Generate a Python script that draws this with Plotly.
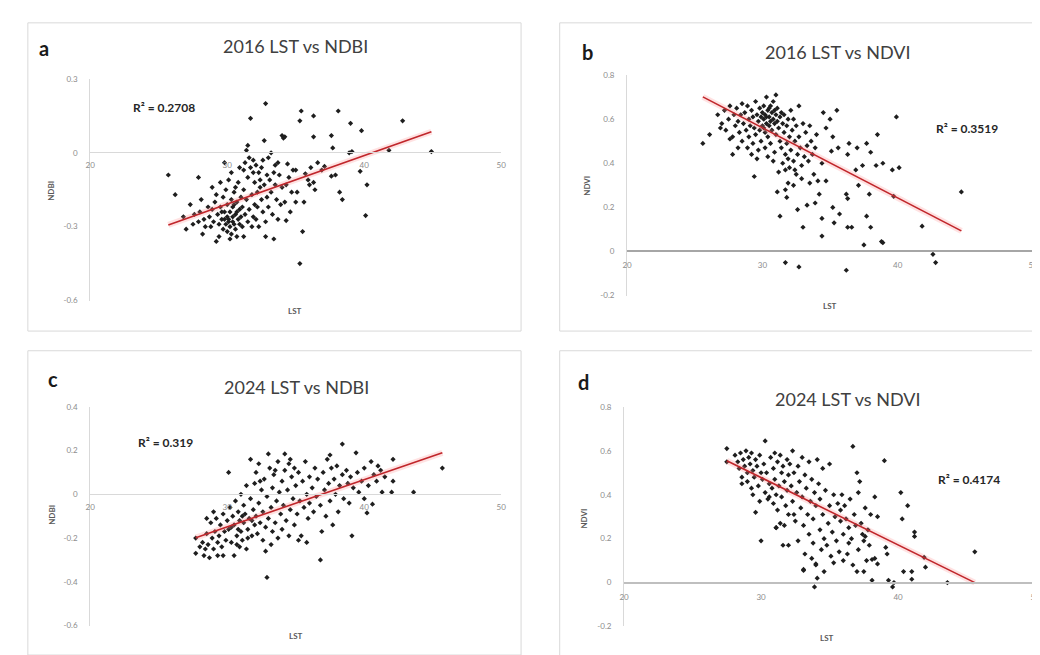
import plotly.graph_objects as go

# ---------------- data ----------------
pts_2016_ndbi = [
    (25.7,-0.09),(26.2,-0.17),(27.0,-0.31),(27.9,-0.10),(26.8,-0.26),(27.3,-0.21),(27.6,-0.25),(27.9,-0.28),
    (28.1,-0.19),(28.3,-0.27),(28.4,-0.30),(27.5,-0.29),(28.0,-0.24),(28.6,-0.22),(28.2,-0.33),
    (28.7,-0.26),(28.8,-0.30),(28.9,-0.23),(29.0,-0.28),(29.1,-0.20),(29.2,-0.36),(29.3,-0.25),(29.4,-0.34),
    (29.4,-0.29),(29.5,-0.22),(29.6,-0.27),(29.7,-0.31),(29.7,-0.18),(29.8,-0.24),(29.9,-0.29),(29.9,-0.15),
    (30.0,-0.26),(30.0,-0.32),(30.0,-0.21),(29.5,-0.12),(29.8,-0.04),(29.2,-0.17),(28.9,-0.14),
    (30.1,-0.28),(30.2,-0.24),(30.2,-0.30),(30.3,-0.19),(30.3,-0.33),(30.4,-0.26),(30.4,-0.22),(30.5,-0.29),
    (30.5,-0.16),(30.6,-0.25),(30.6,-0.31),(30.7,-0.34),(30.7,-0.20),(30.8,-0.27),(30.8,-0.12),(30.9,-0.23),
    (30.9,-0.29),(31.0,-0.18),(31.0,-0.26),(30.1,-0.11),(30.3,-0.08),(30.6,-0.14),(30.9,-0.06),(30.2,-0.35),
    (30.5,-0.21),(29.6,-0.24),(30.1,-0.27),(30.4,-0.28),(29.8,-0.27),(30.7,-0.24),
    (31.1,-0.22),(31.1,-0.30),(31.2,-0.34),(31.2,-0.15),(31.3,-0.25),(31.3,-0.04),(31.4,0.01),(31.4,-0.19),
    (31.5,-0.28),(31.5,-0.10),(31.6,-0.02),(31.6,-0.23),(31.7,0.14),(31.7,-0.06),(31.8,-0.30),(31.8,-0.17),
    (31.9,-0.08),(31.9,-0.26),(32.0,-0.12),(32.0,-0.21),(31.2,-0.07),(31.5,0.03),(31.9,-0.03),
    (32.1,-0.05),(32.1,-0.27),(32.2,-0.16),(32.3,-0.08),(32.3,-0.30),(32.4,-0.11),(32.5,-0.19),(32.5,-0.06),
    (32.6,-0.24),(32.7,0.05),(32.7,-0.13),(32.8,0.20),(32.8,-0.34),(32.9,-0.09),(32.9,-0.18),(33.0,-0.02),
    (33.0,-0.22),(32.4,-0.14),(32.6,-0.03),(32.2,-0.22),(32.8,-0.28),
    (33.1,-0.11),(33.2,0.00),(33.2,-0.16),(33.3,-0.25),(33.4,-0.35),(33.4,-0.08),(33.5,-0.13),(33.6,-0.19),
    (33.7,-0.27),(33.7,-0.04),(33.8,-0.09),(34.0,0.07),(34.1,0.06),(34.2,0.065),(34.0,-0.14),(34.2,-0.20),
    (34.3,-0.275),(34.4,-0.045),(34.5,-0.10),(34.6,-0.24),(34.7,-0.16),(34.8,-0.07),(35.0,-0.07),(35.0,-0.20),
    (33.5,-0.05),(34.3,-0.13),(33.9,-0.21),
    (35.1,-0.16),(35.3,0.13),(35.3,-0.45),(35.4,0.17),(35.5,-0.32),(35.6,-0.20),(35.7,-0.085),(35.9,-0.11),
    (36.1,-0.06),(36.3,0.15),(36.3,0.065),(36.3,-0.12),(36.4,-0.15),(36.6,-0.04),(36.9,-0.07),(37.1,-0.055),
    (37.6,0.07),(37.6,-0.095),(37.7,0.02),(37.9,-0.09),(38.1,0.17),(38.2,-0.16),(38.4,-0.19),(36.0,-0.13),
    (38.9,0.0),(39.0,0.12),(39.1,0.005),(39.7,-0.075),(39.8,0.09),(40.1,-0.255),(40.2,-0.13),(41.8,0.01),
    (42.8,0.13),(44.9,0.005),
]

pts_2016_ndvi = [
    (25.6,0.49),(26.1,0.53),(27.8,0.44),(29.4,0.34),(31.3,0.16),(31.1,0.27),(31.7,0.28),(31.8,0.245),
    (31.9,0.31),(32.3,0.30),(32.6,0.19),(33.0,0.11),(33.3,0.21),(33.9,0.22),(34.2,0.26),(34.4,0.15),
    (34.4,0.07),(34.1,0.32),(34.7,0.32),(35.2,0.20),(35.3,0.13),(35.7,0.17),(36.2,0.26),(36.3,0.24),
    (36.3,0.11),(36.6,0.11),(37.1,0.30),(37.7,0.16),(38.0,0.11),(37.5,0.03),(37.9,0.26),(38.8,0.045),
    (38.9,0.04),(39.7,0.25),(39.9,0.61),(40.1,0.38),(39.6,0.37),(38.9,0.40),(38.4,0.39),(38.5,0.53),
    (38.0,0.45),(37.7,0.49),(37.4,0.39),(36.9,0.37),(37.0,0.47),(36.4,0.49),(36.3,0.44),(35.6,0.47),
    (35.1,0.455),(35.2,0.52),(35.5,0.64),(35.0,0.60),(34.5,0.63),(34.4,0.40),(34.7,0.56),(41.8,0.115),
    (44.7,0.27),(42.6,-0.013),(42.8,-0.05),(31.7,-0.05),(32.7,-0.07),(36.2,-0.085),
    (26.7,0.62),(27.0,0.58),(27.2,0.64),(27.3,0.55),(27.5,0.60),(27.6,0.66),(27.8,0.52),(27.9,0.62),
    (28.0,0.57),(28.1,0.65),(28.2,0.59),(28.3,0.54),(28.4,0.62),(28.5,0.50),(28.5,0.67),(26.9,0.56),
    (27.6,0.51),(28.2,0.47),
    (28.6,0.58),(28.7,0.63),(28.8,0.55),(28.9,0.66),(29.0,0.60),(29.0,0.52),(29.1,0.57),(29.2,0.64),
    (29.3,0.49),(29.3,0.61),(29.4,0.56),(29.5,0.68),(29.5,0.53),(29.6,0.62),(29.7,0.59),(29.7,0.46),
    (29.8,0.65),(29.8,0.55),(29.9,0.61),(29.9,0.50),(30.0,0.63),(30.0,0.57),(29.2,0.44),(29.6,0.42),
    (28.9,0.47),
    (30.1,0.60),(30.1,0.66),(30.2,0.54),(30.2,0.62),(30.3,0.58),(30.3,0.70),(30.4,0.64),(30.4,0.52),
    (30.5,0.61),(30.5,0.57),(30.6,0.66),(30.6,0.49),(30.7,0.63),(30.7,0.55),(30.8,0.60),(30.8,0.68),
    (30.9,0.58),(30.9,0.45),(31.0,0.62),(31.0,0.53),(30.4,0.43),(30.8,0.41),(30.2,0.47),(31.0,0.71),
    (30.3,0.61),(30.6,0.59),(30.9,0.64),(30.1,0.56),(30.5,0.65),
    (31.1,0.59),(31.1,0.65),(31.2,0.56),(31.3,0.61),(31.3,0.50),(31.4,0.63),(31.4,0.47),(31.5,0.58),
    (31.5,0.40),(31.6,0.54),(31.6,0.62),(31.7,0.44),(31.7,0.37),(31.8,0.57),(31.8,0.49),(31.9,0.60),
    (31.9,0.42),(32.0,0.52),(32.0,0.38),(31.2,0.36),
    (32.1,0.46),(32.1,0.64),(32.2,0.55),(32.3,0.41),(32.3,0.60),(32.4,0.50),(32.5,0.35),(32.5,0.57),
    (32.6,0.44),(32.7,0.66),(32.7,0.52),(32.8,0.47),(32.9,0.39),(33.0,0.58),(33.1,0.43),(33.2,0.54),
    (33.3,0.48),(33.4,0.41),(33.5,0.57),(33.6,0.50),(33.7,0.44),(33.8,0.35),(33.9,0.47),(34.0,0.53),
    (32.4,0.37),(32.9,0.33),(33.5,0.31),
]

pts_2024_ndbi = [
    (27.7,-0.20),(27.7,-0.27),(28.3,-0.28),(28.7,-0.29),(29.3,-0.28),(29.7,-0.28),(28.0,-0.24),(28.2,-0.22),
    (28.4,-0.25),(28.5,-0.18),(28.6,-0.23),(28.8,-0.13),(28.9,-0.20),(29.0,-0.25),(29.1,-0.17),(29.2,-0.11),
    (29.3,-0.22),(29.4,-0.19),(29.5,-0.14),(29.6,-0.24),(29.7,-0.09),(29.8,-0.17),(29.9,-0.21),(30.0,-0.12),
    (28.5,-0.11),(29.0,-0.08),(30.5,-0.28),
    (30.1,0.10),(30.1,-0.16),(30.2,-0.06),(30.3,-0.22),(30.4,-0.10),(30.5,-0.14),(30.6,-0.03),(30.7,-0.19),
    (30.8,-0.08),(30.9,-0.24),(30.9,-0.12),(31.0,0.00),(31.0,-0.17),(31.1,-0.21),(31.2,-0.05),(31.2,-0.13),
    (31.3,-0.09),(31.4,0.04),(31.4,-0.25),(31.5,-0.16),(31.6,-0.11),(31.7,0.16),(31.7,-0.02),(31.8,-0.19),
    (31.9,-0.07),(32.0,-0.14),(32.0,0.05),(30.7,-0.23),(31.5,-0.20),(30.3,-0.15),(31.1,-0.10),(31.8,-0.12),
    (30.8,-0.16),
    (32.1,-0.10),(32.1,0.10),(32.2,-0.18),(32.3,-0.04),(32.3,0.14),(32.4,-0.13),(32.5,0.02),(32.6,-0.21),
    (32.6,-0.08),(32.7,0.07),(32.8,-0.15),(32.8,-0.26),(32.9,-0.38),(32.9,-0.01),(33.0,0.185),(33.0,-0.11),
    (33.1,0.12),(33.2,-0.06),(33.3,-0.17),(33.3,0.03),(33.4,0.09),(33.5,-0.13),(33.6,-0.03),(33.7,0.15),
    (33.7,-0.20),(33.8,0.01),(33.9,-0.09),(34.0,0.06),(34.0,-0.16),(32.4,0.06),(33.2,-0.23),(33.5,0.11),
    (34.1,-0.05),(34.2,0.185),(34.2,0.11),(34.3,-0.12),(34.4,0.02),(34.5,0.14),(34.5,-0.19),(34.6,-0.07),
    (34.7,0.08),(34.8,-0.02),(34.9,0.12),(34.9,-0.14),(35.0,0.04),(35.1,-0.09),(35.2,0.10),(35.3,-0.03),
    (35.4,-0.19),(35.5,0.06),(35.6,-0.06),(35.7,0.15),(35.8,0.00),(35.9,-0.11),(36.0,0.08),(36.0,-0.04),
    (34.6,0.16),(35.2,-0.21),(35.8,-0.22),
    (36.2,0.03),(36.3,-0.08),(36.4,0.12),(36.5,-0.01),(36.6,0.07),(36.8,-0.30),(36.8,-0.05),(37.0,0.10),
    (37.1,0.02),(37.2,-0.10),(37.3,0.16),(37.4,0.05),(37.5,-0.03),(37.6,0.12),(37.7,-0.14),(37.8,0.07),
    (37.9,0.00),(38.0,0.13),(38.1,-0.08),(38.2,0.04),(38.4,0.23),(38.4,0.09),(38.5,-0.02),(38.7,0.11),
    (38.8,0.05),(38.9,-0.04),(39.0,0.08),(39.1,-0.19),(37.5,0.18),(36.9,-0.17),
    (39.2,0.03),(39.4,0.19),(39.5,0.10),(39.6,0.01),(39.8,0.06),(40.0,0.12),(40.0,-0.02),(40.2,-0.085),
    (40.3,0.04),(40.5,0.15),(40.6,-0.045),(40.7,0.09),(40.9,0.06),(41.0,0.13),(41.3,0.01),(41.5,0.08),
    (42.0,0.01),(42.1,0.06),(42.1,0.16),(43.6,0.01),(45.7,0.12),(41.2,0.11),
]

pts_2024_ndvi = [
    (27.5,0.61),(27.5,0.55),(30.3,0.645),(36.7,0.62),(39.0,0.555),(30.0,0.19),(29.6,0.32),(29.4,0.40),
    (31.1,0.25),(45.6,0.14),(43.6,0.0),(42.0,0.07),(41.9,0.115),(41.2,0.21),(41.2,0.23),(40.7,0.35),
    (40.2,0.41),(40.3,0.29),(39.7,0.0),(39.6,-0.02),(39.3,0.01),(41.0,0.015),(41.0,0.05),(40.4,0.05),
    (38.1,0.01),(37.0,0.05),(33.9,-0.02),(34.1,0.02),(33.1,0.055),(34.0,0.085),(36.0,0.10),(36.4,0.18),
    (38.1,0.105),(38.3,0.11),(38.5,0.085),(39.2,0.13),(37.5,0.19),(37.6,0.21),(39.1,0.16),(38.5,0.30),
    (38.0,0.31),(37.6,0.34),(37.1,0.41),(37.2,0.46),(37.0,0.50),(38.3,0.39),
    (28.1,0.58),(28.3,0.55),(28.4,0.52),(28.5,0.59),(28.6,0.48),(28.7,0.56),(28.8,0.53),(28.9,0.60),
    (29.0,0.50),(29.0,0.46),(29.1,0.57),(29.2,0.54),(29.3,0.59),(29.4,0.51),(29.5,0.48),(29.6,0.56),
    (29.7,0.53),(29.8,0.44),(29.9,0.58),(30.0,0.50),(28.6,0.45),(29.3,0.43),(29.9,0.37),
    (30.1,0.47),(30.2,0.54),(30.3,0.41),(30.4,0.50),(30.5,0.38),(30.6,0.45),(30.7,0.57),(30.8,0.43),
    (30.9,0.52),(30.9,0.36),(31.0,0.59),(31.0,0.47),(31.1,0.40),(31.2,0.55),(31.2,0.33),(31.3,0.44),
    (31.4,0.58),(31.4,0.27),(31.5,0.50),(31.5,0.39),(31.6,0.53),(31.7,0.46),(31.7,0.26),(31.8,0.35),
    (31.9,0.56),(31.9,0.42),(32.0,0.49),(32.0,0.31),(31.1,0.25),(30.6,0.39),(31.6,0.17),(32.0,0.17),
    (32.1,0.54),(32.2,0.44),(32.3,0.37),(32.3,0.60),(32.4,0.50),(32.5,0.28),(32.6,0.41),(32.7,0.53),
    (32.7,0.19),(32.8,0.46),(32.9,0.34),(33.0,0.57),(33.0,0.39),(33.1,0.26),(33.2,0.49),(33.2,0.13),
    (33.3,0.43),(33.4,0.31),(33.5,0.55),(33.5,0.22),(33.6,0.37),(33.7,0.47),(33.8,0.18),(33.8,0.29),
    (33.9,0.41),(34.0,0.35),(34.0,0.08),(32.4,0.31),(33.1,0.06),(33.7,0.11),
    (34.1,0.56),(34.2,0.45),(34.3,0.24),(34.3,0.38),(34.4,0.15),(34.5,0.52),(34.5,0.31),(34.6,0.20),
    (34.7,0.42),(34.8,0.17),(34.9,0.27),(35.0,0.54),(35.0,0.35),(35.1,0.12),(35.2,0.23),(35.3,0.40),
    (35.4,0.30),(35.5,0.19),(35.6,0.36),(35.7,0.14),(35.8,0.28),(35.9,0.40),(36.0,0.22),(34.6,0.05),
    (35.3,0.09),(35.8,0.33),
    (36.1,0.35),(36.2,0.29),(36.3,0.13),(36.4,0.25),(36.5,0.38),(36.6,0.20),(36.8,0.31),(36.9,0.26),
    (37.1,0.15),(37.3,0.27),(37.4,0.22),(37.7,0.10),(37.8,0.24),(37.9,0.17),(36.7,0.08),(37.5,0.05),
]

# linear trendlines (slope, intercept) and R² labels as printed on the chart
trend_coef = {"a": (0.0197, -0.799), "b": (-0.0318, 1.515), "c": (0.02155, -0.795), "d": (-0.03066, 1.398)}
r2_text = {"a": "R² = 0.2708", "b": "R² = 0.3519", "c": "R² = 0.319", "d": "R² = 0.4174"}
titles = {"a": "2016 LST vs NDBI", "b": "2016 LST vs NDVI", "c": "2024 LST vs NDBI", "d": "2024 LST vs NDVI"}
y_names = {"a": "NDBI", "b": "NDVI", "c": "NDBI", "d": "NDVI"}
y_ticks = {
    "a": [-0.6, -0.3, 0, 0.3],
    "b": [-0.2, 0, 0.2, 0.4, 0.6, 0.8],
    "c": [-0.6, -0.4, -0.2, 0, 0.2, 0.4],
    "d": [-0.2, 0, 0.2, 0.4, 0.6, 0.8],
}
x_ticks = [20, 30, 40, 50]
series = {"a": pts_2016_ndbi, "b": pts_2016_ndvi, "c": pts_2024_ndbi, "d": pts_2024_ndvi}

# ---------------- layout geometry (pixels in a 1040x655 page) ----------------
W, H = 1040, 655
def px(x):
    return x / W
def py(y):
    return 1 - y / H

panel = {
    "a": dict(xd=(78, 493), yd=(292, 67), zero=141, box=(15, 10, 513, 323), title=(285, 34), r2=(152, 96),
              lst=(285, 303), ylab=(39, 181), letter=(31, 36), xline="#d9d9d9", xlw=1),
    "b": dict(xd=(620, 1030), yd=(287, 63), zero=242, box=(552, 10, 1045, 323), title=(832, 40), r2=(963, 117),
              lst=(825, 298), ylab=(580, 175), letter=(580, 40), xline="#a6a6a6", xlw=1.5),
    "c": dict(xd=(78, 493), yd=(622, 400), zero=488, box=(15, 343, 513, 652), title=(286, 380), r2=(154, 436),
              lst=(286, 633), ylab=(40, 510), letter=(40, 372), xline="#d9d9d9", xlw=1),
    "d": dict(xd=(617, 1032), yd=(623, 400), zero=579, box=(552, 343, 1045, 660), title=(843, 392), r2=(965, 474),
              lst=(822, 635), ylab=(577, 513), letter=(576, 375), xline="#bfbfbf", xlw=1.5),
}

FONT = "Lato, 'Open Sans', sans-serif"
fig = go.Figure()
layout = dict(width=W, height=H, margin=dict(l=0, r=0, t=0, b=0), paper_bgcolor="white",
              plot_bgcolor="rgba(0,0,0,0)", showlegend=False, shapes=[], annotations=[])

for i, key in enumerate(["a", "b", "c", "d"]):
    p = panel[key]
    n = "" if i == 0 else str(i + 1)
    xs = [q[0] for q in series[key]]
    ys = [q[1] for q in series[key]]
    xa, ya = "x" + n, "y" + n
    fig.add_trace(go.Scatter(x=xs, y=ys, mode="markers", xaxis=xa, yaxis=ya,
                             marker=dict(size=4, color="#1e1e1e", symbol="diamond")))
    m, b = trend_coef[key]
    x0, x1 = min(xs), max(xs)
    fig.add_trace(go.Scatter(x=[x0, x1], y=[m * x0 + b, m * x1 + b], mode="lines", xaxis=xa, yaxis=ya,
                             line=dict(color="rgba(255,140,140,0.25)", width=6), hoverinfo="skip"))
    fig.add_trace(go.Scatter(x=[x0, x1], y=[m * x0 + b, m * x1 + b], mode="lines", xaxis=xa, yaxis=ya,
                             line=dict(color="#c0262b", width=1.6)))

    yt = y_ticks[key]
    layout["xaxis" + n] = dict(domain=[px(p["xd"][0]), px(p["xd"][1])], range=[20, 50], tickvals=x_ticks,
                               ticktext=[str(v) for v in x_ticks], anchor="free", position=py(p["zero"]),
                               showgrid=False, zeroline=False, showline=True, linecolor=p["xline"],
                               linewidth=p["xlw"], ticks="", ticklabelstandoff=6,
                               tickfont=dict(size=8, color="#8c8c8c", family=FONT), fixedrange=True)
    layout["yaxis" + n] = dict(domain=[py(p["yd"][0]), py(p["yd"][1])], range=[yt[0], yt[-1]], tickvals=yt,
                               ticktext=["%g" % v for v in yt], anchor=xa,
                               showgrid=False, zeroline=False, showline=True, linecolor="#d9d9d9", linewidth=1,
                               ticks="", ticklabelstandoff=10,
                               tickfont=dict(size=8, color="#8c8c8c", family=FONT), fixedrange=True)

    bx = p["box"]
    layout["shapes"].append(dict(type="rect", xref="paper", yref="paper", x0=px(bx[0]), y0=py(bx[3]),
                                 x1=px(bx[2]), y1=py(bx[1]), line=dict(color="#d9d9d9", width=1),
                                 fillcolor="rgba(0,0,0,0)", layer="below"))

    def ann(text, pos, size, bold=False, color="#404040", angle=0):
        layout["annotations"].append(dict(text=("<b>%s</b>" % text) if bold else text, xref="paper",
                                          yref="paper", x=px(pos[0]), y=py(pos[1]), showarrow=False,
                                          xanchor="center", yanchor="middle", textangle=angle,
                                          font=dict(size=size, color=color, family=FONT)))
    ann(titles[key], p["title"], 18, color="#404040")
    ann(r2_text[key], p["r2"], 12, bold=True, color="#262626")
    ann("LST", p["lst"], 8, bold=True, color="#595959")
    ann(y_names[key], p["ylab"], 8, bold=True, color="#595959", angle=-90)
    ann(key, p["letter"], 20, bold=True, color="#1a1a1a")

fig.update_layout(**layout)
fig.write_html("out.html")
